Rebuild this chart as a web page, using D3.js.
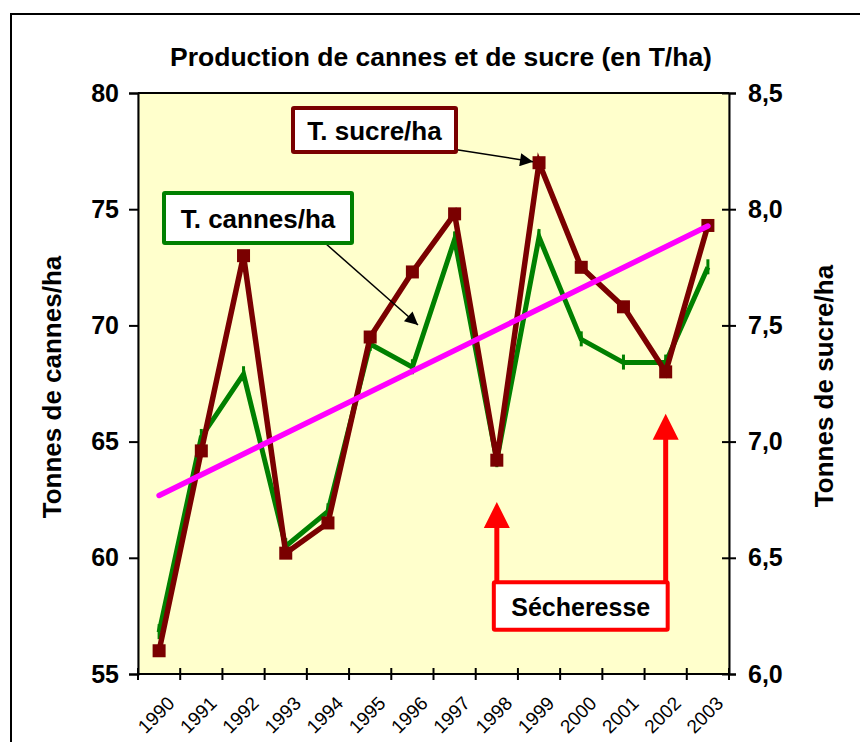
<!DOCTYPE html>
<html><head><meta charset="utf-8">
<script src="https://cdn.jsdelivr.net/npm/d3@7"></script>
<style>
body{margin:0;background:#fff;}
svg{display:block;font-family:"Liberation Sans",Arial,sans-serif;}
</style></head>
<body><svg id="c" width="860" height="742"></svg>
<script>
const years = ["1990","1991","1992","1993","1994","1995","1996","1997","1998","1999","2000","2001","2002","2003"];
const cannes = [56.8,65.2,67.9,60.5,62.0,69.2,68.2,73.7,64.2,73.8,69.4,68.4,68.4,72.5];
const sucre = [6.10,6.96,7.80,6.52,6.65,7.45,7.73,7.98,6.92,8.20,7.75,7.58,7.30,7.93];
const leftTicks = [55,60,65,70,75,80];
const rightTicks = [6.0,6.5,7.0,7.5,8.0,8.5];
const title = "Production de cannes et de sucre (en T/ha)";
const leftTitle = "Tonnes de cannes/ha";
const rightTitle = "Tonnes de sucre/ha";
const droughtYears = ["1998","2002"];

const svg = d3.select("#c");
const L=138,R=729,T=93,B=674;
const x = d3.scaleBand().domain(years).range([L,R]).padding(0);
const cx = d => x(d)+x.bandwidth()/2;
const yL = d3.scaleLinear().domain([55,80]).range([B,T]);
const yR = d3.scaleLinear().domain([6,8.5]).range([B,T]);

svg.append("rect").attr("x",11).attr("y",14).attr("width",880).attr("height",760)
  .attr("fill","#fff").attr("stroke","#000").attr("stroke-width",2);

svg.append("rect").attr("x",L).attr("y",T).attr("width",R-L).attr("height",B-T)
  .attr("fill","#FFFFCC").attr("stroke","#888").attr("stroke-width",1);

svg.append("text").attr("x",441).attr("y",66).attr("text-anchor","middle")
  .attr("font-size",26.5).attr("font-weight","bold").text(title);

const gL = svg.append("g").attr("transform",`translate(${L},0)`)
  .call(d3.axisLeft(yL).tickValues(leftTicks).tickSize(9).tickPadding(10).tickFormat(d3.format("d")));
const gR = svg.append("g").attr("transform",`translate(${R},0)`)
  .call(d3.axisRight(yR).tickValues(rightTicks).tickSize(7).tickPadding(12).tickFormat(d=>d3.format(".1f")(d).replace(".",",")));
gR.selectAll(".tick line").attr("x1",-7);
const xTickPos = years.map(y=>x(y)).concat([R]);
const gX = svg.append("g");
gX.append("line").attr("x1",L).attr("x2",R).attr("y1",B).attr("y2",B).attr("stroke","#000").attr("stroke-width",2);
gX.selectAll("line.t").data(xTickPos).join("line").attr("class","t")
  .attr("x1",d=>d).attr("x2",d=>d).attr("y1",B-6).attr("y2",B+6).attr("stroke","#000").attr("stroke-width",2);
gX.selectAll("text").data(years).join("text")
  .attr("transform",d=>`translate(${cx(d)+13},${B+27}) rotate(-45)`)
  .attr("text-anchor","end").attr("dominant-baseline","middle")
  .attr("font-size",19).text(d=>d);

[gL,gR].forEach(g=>{
  g.select(".domain").attr("stroke","#000").attr("stroke-width",2);
  g.selectAll(".tick line").attr("stroke","#000").attr("stroke-width",2);
  g.selectAll(".tick text").attr("font-size",25).attr("font-weight","bold").attr("fill","#000")
    .attr("font-family","Liberation Sans, Arial, sans-serif");
});
svg.append("line").attr("x1",L).attr("x2",R).attr("y1",T).attr("y2",T).attr("stroke","#000").attr("stroke-width",2);

svg.append("text").attr("transform",`translate(61,387) rotate(-90)`).attr("text-anchor","middle")
  .attr("font-size",26).attr("font-weight","bold").text(leftTitle);
svg.append("text").attr("transform",`translate(833,386) rotate(-90)`).attr("text-anchor","middle")
  .attr("font-size",26).attr("font-weight","bold").text(rightTitle);

const lineC = d3.line().x((d,i)=>cx(years[i])).y(d=>yL(d));
svg.append("path").datum(cannes).attr("d",lineC).attr("fill","none")
  .attr("stroke","#008000").attr("stroke-width",5).attr("stroke-linejoin","miter");
svg.selectAll("line.mc").data(cannes).join("line").attr("class","mc")
  .attr("x1",(d,i)=>cx(years[i])).attr("x2",(d,i)=>cx(years[i]))
  .attr("y1",d=>yL(d)-8).attr("y2",d=>yL(d)+7).attr("stroke","#008000").attr("stroke-width",3);

const lineS = d3.line().x((d,i)=>cx(years[i])).y(d=>yR(d));
svg.append("path").datum(sucre).attr("d",lineS).attr("fill","none")
  .attr("stroke","#7A0000").attr("stroke-width",5.5).attr("stroke-linejoin","miter");
svg.selectAll("rect.ms").data(sucre).join("rect").attr("class","ms")
  .attr("x",(d,i)=>cx(years[i])-6.5).attr("y",d=>yR(d)-6.5).attr("width",13).attr("height",13)
  .attr("fill","#7A0000");

// trend line (linear regression of sucre)
const n = sucre.length, idx = d3.range(n);
const mx = d3.mean(idx), my = d3.mean(sucre);
const slope = d3.sum(idx,i=>(i-mx)*(sucre[i]-my))/d3.sum(idx,i=>(i-mx)*(i-mx));
const icpt = my - slope*mx;
svg.append("line").attr("x1",cx(years[0])).attr("y1",yR(icpt))
  .attr("x2",cx(years[n-1])).attr("y2",yR(icpt+slope*(n-1)))
  .attr("stroke","#FF00FF").attr("stroke-width",5.5).attr("stroke-linecap","round");

const defs = svg.append("defs");
defs.append("marker").attr("id","ah").attr("viewBox","0 0 10 10").attr("refX",10).attr("refY",5)
  .attr("markerWidth",18).attr("markerHeight",13).attr("markerUnits","userSpaceOnUse").attr("orient","auto")
  .append("path").attr("d","M0,0L10,5L0,10Z").attr("fill","#000");

function box(x0,y0,w,h,color,txt,fs){
  svg.append("rect").attr("x",x0).attr("y",y0).attr("width",w).attr("height",h)
    .attr("fill","#fff").attr("stroke",color).attr("stroke-width",4).attr("rx",1);
  svg.append("text").attr("x",x0+w/2).attr("y",y0+h/2+1).attr("text-anchor","middle")
    .attr("dominant-baseline","central").attr("font-size",fs).attr("font-weight","bold").text(txt);
}
svg.append("line").attr("x1",452).attr("y1",149).attr("x2",cx("1999")-6).attr("y2",yR(8.2)-1)
  .attr("stroke","#000").attr("stroke-width",1.5).attr("marker-end","url(#ah)");
box(293,108,163,44,"#7A0000","T. sucre/ha",26);
svg.append("line").attr("x1",325).attr("y1",243).attr("x2",418).attr("y2",325)
  .attr("stroke","#000").attr("stroke-width",1.5).attr("marker-end","url(#ah)");
box(164,193,188,50,"#008000","T. cannes/ha",26);

const xa = cx(droughtYears[0]), xb = cx(droughtYears[1]);
const bxTop = yR(6.395), bxBot = yR(6.19);
[[xa,yR(6.74)],[xb,yR(7.12)]].forEach(([xx,tip])=>{
  svg.append("line").attr("x1",xx).attr("x2",xx).attr("y1",bxTop).attr("y2",tip+24)
    .attr("stroke","#FF0000").attr("stroke-width",5);
  svg.append("path").attr("d",`M${xx},${tip}L${xx-13},${tip+26}L${xx+13},${tip+26}Z`).attr("fill","#FF0000");
});
box(xa-3, bxTop, xb-xa+5, bxBot-bxTop, "#FF0000", "Sécheresse", 25);
</script></body></html>
